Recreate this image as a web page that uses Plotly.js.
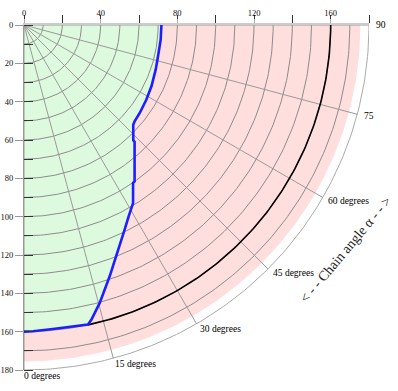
<!DOCTYPE html>
<html>
<head>
<meta charset="utf-8">
<script src="https://cdn.plot.ly/plotly-3.0.1.min.js"></script>
<style>html,body{margin:0;padding:0;background:#fff;}#chart{width:398px;height:391px;}</style>
</head>
<body>
<div id="chart"></div>
<script>
// ---- data ----
const gridRadii = [10,20,30,40,50,60,70,80,90,100,110,120,130,140,150,160,170,180];
const rayAngles = [0,15,30,45,60,75,90];
const rayLabels = ["0 degrees","15 degrees","30 degrees","45 degrees","60 degrees","75","90"];
const blueX = [0, 4.7, 15.1, 23.8, 33.4, 35.2, 39.5, 44.7, 49.9, 52.5, 54.6, 56.0, 56.9, 56.9, 57.7, 57.7, 57.0, 57.0, 57.7, 60.4, 63.8, 66.5, 68.7, 69.9, 71.3, 71.7];
const blueY = [160, 159.8, 158.6, 157.5, 156.3, 153.7, 145, 131.1, 115.5, 106.8, 99.8, 95.5, 92.9, 82.3, 81.6, 61, 60, 52, 50.3, 45.9, 39, 32, 23.3, 16.4, 7.7, 0];
const chainRadius = 160;
const pinkOuterRadius = 175.5;
const rayLength = 180;
const xTicks = [0,40,80,120,160];
const yTicks = [0,20,40,60,80,100,120,140,160,180];

// ---- helpers ----
const rad = d => d*Math.PI/180;
function arc(r, a0, a1){
  const xs=[], ys=[], n=120;
  for(let i=0;i<=n;i++){ const a = rad(a0 + (a1-a0)*i/n); xs.push(r*Math.sin(a)); ys.push(r*Math.cos(a)); }
  return {xs, ys};
}
const traces = [];
traces.push({x:[0].concat(blueX), y:[0].concat(blueY), mode:'lines', fill:'toself', fillcolor:'rgb(222,250,222)', line:{width:0,color:'rgba(0,0,0,0)'}, hoverinfo:'skip'});
const outer = arc(pinkOuterRadius, 90, 0);
traces.push({x:blueX.concat(outer.xs), y:blueY.concat(outer.ys), mode:'lines', fill:'toself', fillcolor:'rgb(255,222,222)', line:{width:0,color:'rgba(0,0,0,0)'}, hoverinfo:'skip'});
gridRadii.forEach(r=>{
  const a = arc(r,0,90);
  traces.push({x:a.xs, y:a.ys, mode:'lines', line:{color: r===180 ? '#aaaaaa' : '#8c8c8c', width:1}, hoverinfo:'skip'});
});
rayAngles.forEach(d=>{
  traces.push({x:[0, rayLength*Math.sin(rad(d))], y:[0, rayLength*Math.cos(rad(d))], mode:'lines', line:{color:'#9a9a9a', width:1}, hoverinfo:'skip'});
});
const jIdx = 4;
const a0 = Math.atan2(blueX[jIdx], blueY[jIdx])*180/Math.PI;
const ch = arc(chainRadius, a0, 90);
traces.push({x:ch.xs, y:ch.ys, mode:'lines', line:{color:'#000', width:1.6}, hoverinfo:'skip'});
traces.push({x:blueX, y:blueY, mode:'lines', line:{color:'#1e1eff', width:2.6}, hoverinfo:'skip'});

const ff = 'Liberation Serif';
const annotations = rayAngles.map((d,i)=>({
  x: rayLength*Math.sin(rad(d)), y: rayLength*Math.cos(rad(d)), xref:'x', yref:'y',
  text: rayLabels[i], showarrow:false, xanchor:'left', yanchor:'middle',
  xshift: 6.5*Math.sin(rad(d)) - 2, yshift: -6*Math.cos(rad(d)),
  font:{family:ff, size:9.5, color:'#000'}
}));
annotations.push({x:168, y:117.2, xref:'x', yref:'y', text:'&lt; - - Chain angle α - - &gt;', showarrow:false,
  textangle:-50, font:{family:ff, size:14, color:'#222'}});

const layout = {
  width:398, height:391, showlegend:false,
  font:{family:ff},
  margin:{l:24, r:29, t:25, b:21},
  paper_bgcolor:'#fff', plot_bgcolor:'#fff',
  xaxis:{range:[0,180], side:'top', showgrid:false, zeroline:false, showline:true, linecolor:'#cccccc', linewidth:2,
    tickmode:'array', tickvals:xTicks, ticktext:xTicks.map(String), ticks:'outside', ticklen:4, tickcolor:'#aaa',
    minor:{dtick:20, tick0:0, ticks:'outside', ticklen:8, tickcolor:'#333', showgrid:false},
    tickfont:{family:ff, size:8.5, color:'#111'}, fixedrange:true},
  yaxis:{range:[180,0], showgrid:false, zeroline:false, showline:true, linecolor:'#999', linewidth:1,
    tickmode:'array', tickvals:yTicks, ticktext:yTicks.map(String), ticks:'outside', ticklen:8, tickcolor:'#999',
    minor:{dtick:10, tick0:0, ticks:'inside', ticklen:9, tickcolor:'#333', showgrid:false},
    tickfont:{family:ff, size:8.5, color:'#111'}, fixedrange:true},
  annotations: annotations
};
Plotly.newPlot('chart', traces, layout, {staticPlot:true, displayModeBar:false});
</script>
</body>
</html>
